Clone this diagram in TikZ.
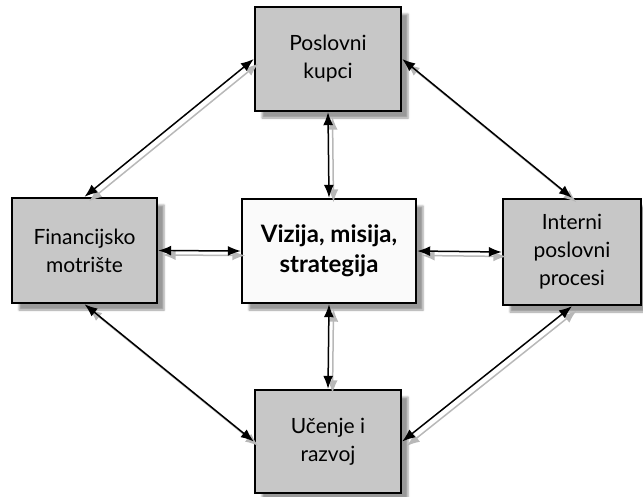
\documentclass[tikz,border=0pt]{standalone}
\usepackage{fontspec}
\setmainfont{Lato}
\usetikzlibrary{arrows.meta,shadows.blur}
\begin{document}
\begin{tikzpicture}[x=1pt,y=-1pt,
  box/.style={draw=black, line width=2.4pt, fill=black!22, inner sep=0pt,
    align=center, font=\fontsize{21}{28}\selectfont,
    blur shadow={shadow xshift=7pt, shadow yshift=-7pt, shadow blur radius=2pt,
      shadow opacity=40}},
  corebox/.style={box, fill=black!2, font=\fontsize{24}{30}\selectfont\bfseries},
  link/.style={line width=1.5pt, {Latex[length=13pt,width=10pt]}-{Latex[length=13pt,width=10pt]}},
  linkshadow/.style={link, draw=black!28, transform canvas={shift={(4.5pt,-4.5pt)}}}
]
\useasboundingbox (0,0) rectangle (643,496);

% boxes
\node[box, minimum width=146pt, minimum height=104pt] (kup) at (328,59) {Poslovni\\kupci};
\node[box, minimum width=145pt, minimum height=105pt] (fin) at (84.5,250.5) {Financijsko\\motrište};
\node[corebox, minimum width=174pt, minimum height=104pt] (viz) at (329,251) {Vizija, misija,\\strategija};
\node[box, minimum width=138pt, minimum height=106pt] (int) at (572,252) {Interni\\poslovni\\procesi};
\node[box, minimum width=146pt, minimum height=103pt] (uce) at (328,441.5) {Učenje i\\razvoj};

% two-headed connectors, each with a soft offset shadow
\foreach \a/\b in {kup.west/fin.north, kup.east/int.north, fin.south/uce.west,
                   int.south/uce.east, kup.south/viz.north, viz.south/uce.north,
                   fin.east/viz.west, viz.east/int.west}{
  \draw[linkshadow] (\a) -- (\b);
  \draw[link] (\a) -- (\b);
}
\end{tikzpicture}
\end{document}
